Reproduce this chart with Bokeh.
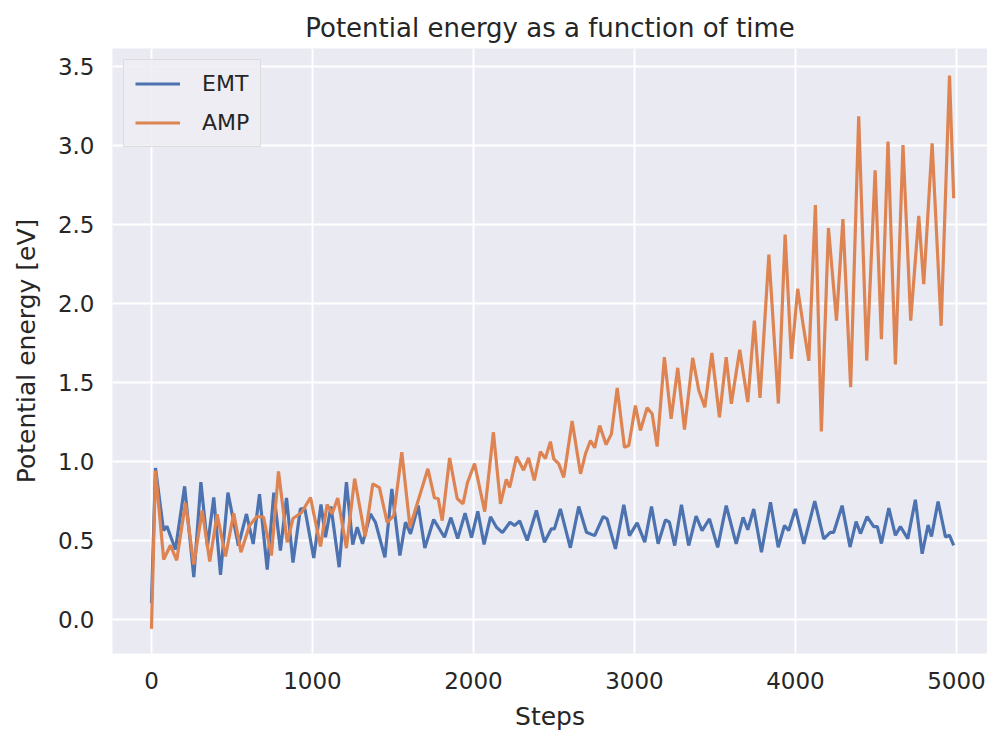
from bokeh.plotting import figure
from bokeh.models import FixedTicker, Range1d, Legend, LegendItem
from bokeh.embed import file_html
from bokeh.resources import INLINE

# Potential energy of the EMT reference calculator and the AMP model
# along a molecular-dynamics trajectory (turning points of each curve).
emt_steps = [0, 25, 75, 96, 149, 206, 263, 307, 348, 387, 429, 475, 540, 590, 632, 671,
             719, 760, 801, 839, 879, 925, 953, 1008, 1053, 1081, 1115, 1166, 1211, 1250,
             1278, 1311, 1360, 1391, 1450, 1493, 1543, 1578, 1609, 1657, 1698, 1753, 1820,
             1860, 1902, 1948, 1988, 2027, 2066, 2106, 2143, 2180, 2227, 2255, 2287, 2334,
             2391, 2441, 2484, 2503, 2540, 2602, 2654, 2702, 2753, 2806, 2830, 2882, 2934,
             2969, 3017, 3064, 3106, 3147, 3193, 3217, 3250, 3292, 3337, 3383, 3420, 3466,
             3517, 3570, 3632, 3675, 3704, 3741, 3789, 3845, 3893, 3932, 3958, 4000, 4052,
             4120, 4176, 4217, 4238, 4290, 4339, 4377, 4404, 4445, 4486, 4509, 4534, 4580,
             4621, 4652, 4698, 4745, 4787, 4824, 4845, 4886, 4932, 4957, 4983]
emt_energy = [0.10, 0.956, 0.56, 0.587, 0.44, 0.84, 0.265, 0.866, 0.46, 0.77, 0.28, 0.80,
              0.465, 0.665, 0.475, 0.79, 0.313, 0.80, 0.434, 0.767, 0.358, 0.697, 0.697,
              0.386, 0.725, 0.518, 0.712, 0.328, 0.866, 0.472, 0.581, 0.476, 0.666, 0.613,
              0.391, 0.824, 0.402, 0.613, 0.539, 0.718, 0.449, 0.63, 0.518, 0.642, 0.509,
              0.67, 0.516, 0.682, 0.472, 0.647, 0.581, 0.547, 0.613, 0.592, 0.621, 0.497,
              0.687, 0.486, 0.571, 0.571, 0.697, 0.451, 0.712, 0.549, 0.528, 0.649, 0.634,
              0.444, 0.723, 0.528, 0.609, 0.486, 0.712, 0.476, 0.628, 0.613, 0.465, 0.723,
              0.465, 0.651, 0.56, 0.634, 0.454, 0.718, 0.476, 0.644, 0.565, 0.697, 0.423,
              0.739, 0.454, 0.592, 0.56, 0.697, 0.476, 0.746, 0.508, 0.549, 0.549, 0.718,
              0.456, 0.617, 0.541, 0.649, 0.585, 0.585, 0.478, 0.702, 0.53, 0.585, 0.509,
              0.755, 0.413, 0.595, 0.522, 0.744, 0.52, 0.53, 0.466]

amp_steps = [0, 25, 76, 118, 157, 211, 263, 315, 362, 408, 460, 511, 556, 609, 655, 696,
             745, 789, 843, 879, 932, 988, 1050, 1091, 1122, 1157, 1211, 1262, 1327, 1375,
             1416, 1464, 1505, 1555, 1606, 1717, 1758, 1781, 1806, 1852, 1899, 1935, 1963,
             2007, 2070, 2124, 2168, 2204, 2225, 2268, 2311, 2342, 2378, 2416, 2447, 2478,
             2499, 2530, 2561, 2613, 2665, 2696, 2727, 2753, 2784, 2824, 2857, 2893, 2938,
             2965, 3006, 3037, 3079, 3110, 3141, 3186, 3228, 3269, 3311, 3362, 3400, 3437,
             3481, 3528, 3570, 3602, 3654, 3704, 3745, 3780, 3835, 3894, 3936, 3975, 4014,
             4052, 4083, 4124, 4161, 4205, 4255, 4295, 4343, 4393, 4443, 4495, 4534, 4575,
             4621, 4668, 4716, 4766, 4797, 4849, 4905, 4957, 4983]
amp_energy = [-0.062, 0.94, 0.377, 0.467, 0.372, 0.735, 0.345, 0.687, 0.364, 0.663, 0.396,
              0.67, 0.423, 0.592, 0.649, 0.646, 0.402, 0.934, 0.486, 0.636, 0.674, 0.769,
              0.459, 0.725, 0.666, 0.766, 0.449, 0.889, 0.522, 0.856, 0.832, 0.611, 0.655,
              1.056, 0.581, 0.951, 0.766, 0.763, 0.623, 1.019, 0.763, 0.729, 0.864, 0.984,
              0.68, 1.182, 0.729, 0.884, 0.834, 1.028, 0.942, 1.02, 0.878, 1.06, 1.016,
              1.123, 1.014, 0.982, 0.897, 1.253, 0.919, 1.046, 1.13, 1.084, 1.225, 1.104,
              1.172, 1.463, 1.087, 1.098, 1.351, 1.193, 1.337, 1.299, 1.092, 1.657, 1.267,
              1.59, 1.199, 1.653, 1.446, 1.341, 1.684, 1.277, 1.657, 1.362, 1.704, 1.373,
              1.889, 1.399, 2.307, 1.364, 2.434, 1.646, 2.09, 1.835, 1.634, 2.62, 1.187,
              2.475, 1.889, 2.532, 1.468, 3.182, 1.636, 2.84, 1.771, 3.022, 1.611, 3.0,
              1.889, 2.551, 2.12, 3.011, 1.856, 3.439, 2.663]

x_ticks = [0, 1000, 2000, 3000, 4000, 5000]
x_tick_labels = ["0", "1000", "2000", "3000", "4000", "5000"]
y_ticks = [0.0, 0.5, 1.0, 1.5, 2.0, 2.5, 3.0, 3.5]
y_tick_labels = ["0.0", "0.5", "1.0", "1.5", "2.0", "2.5", "3.0", "3.5"]

FONT = "DejaVu Sans"
TEXT = "#262626"

p = figure(width=987, height=733,
           x_range=Range1d(-242, 5193), y_range=Range1d(-0.218, 3.611),
           output_backend="svg", toolbar_location=None,
           min_border_left=112, min_border_right=0,
           min_border_top=48, min_border_bottom=80,
           background_fill_color="#EAEAF2", border_fill_color="white",
           outline_line_color=None)

p.title.text = "Potential energy as a function of time"
p.title.align = "center"
p.title.text_font = FONT
p.title.text_font_size = "26px"
p.title.text_font_style = "normal"
p.title.text_color = TEXT
p.title.standoff = 11

p.xaxis.ticker = FixedTicker(ticks=x_ticks)
p.yaxis.ticker = FixedTicker(ticks=y_ticks)
p.xaxis.major_label_overrides = dict(zip(x_ticks, x_tick_labels))
p.yaxis.major_label_overrides = dict(zip(y_ticks, y_tick_labels))
p.xaxis.axis_label = "Steps"
p.yaxis.axis_label = "Potential energy [eV]"

for ax in (p.xaxis[0], p.yaxis[0]):
    ax.axis_line_color = None
    ax.major_tick_line_color = None
    ax.minor_tick_line_color = None
    ax.major_label_text_font = FONT
    ax.major_label_text_font_size = "23px"
    ax.major_label_text_color = TEXT
    ax.major_label_standoff = 12
    ax.axis_label_text_font = FONT
    ax.axis_label_text_font_size = "25px"
    ax.axis_label_text_font_style = "normal"
    ax.axis_label_text_color = TEXT

p.xaxis.axis_label_standoff = 10
p.yaxis.axis_label_standoff = 14

p.grid.grid_line_color = "white"
p.grid.grid_line_width = 2

emt = p.line(emt_steps, emt_energy, line_color="#4C72B0", line_width=3.2)
amp = p.line(amp_steps, amp_energy, line_color="#DD8452", line_width=3.2)

legend = Legend(items=[LegendItem(label="EMT", renderers=[emt]),
                       LegendItem(label="AMP", renderers=[amp])],
                location="top_left", margin=11, padding=11, spacing=14,
                glyph_width=45, glyph_height=23, label_height=23, label_standoff=22,
                label_text_font=FONT, label_text_font_size="22px", label_text_color=TEXT,
                background_fill_color="#EDEDF3", background_fill_alpha=0.9,
                border_line_color="#CCCCCC", border_line_width=1)
p.add_layout(legend)

open("out.html", "w").write(file_html(p, INLINE))
